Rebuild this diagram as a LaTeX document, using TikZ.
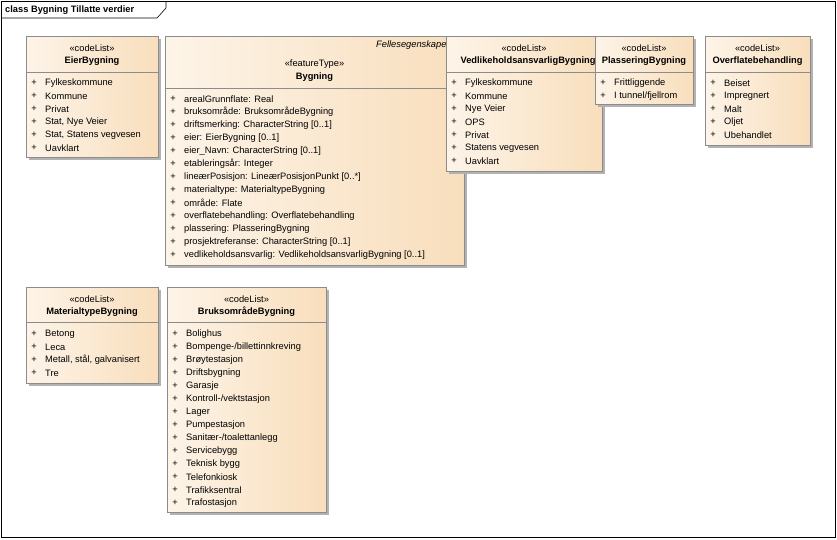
\documentclass[tikz,border=0pt]{standalone}
\usepackage{fontspec}
\setmainfont{Liberation Sans}
\begin{document}
\begin{tikzpicture}[x=1pt,y=-1pt,
  t/.style={inner sep=0pt,font=\fontsize{9.3}{11}\selectfont},
  it/.style={t,anchor=west},
  box/.style={draw=black!45,line width=0.6pt,left color=cream1,right color=cream2},
  shadow/.style={fill=black!30,draw=none}]
\definecolor{cream1}{HTML}{FDF4E8}
\definecolor{cream2}{HTML}{F8DEBC}
\useasboundingbox (0,0) rectangle (837,539);
\draw[line width=0.8pt] (1,1) rectangle (835,537);
\draw[line width=0.6pt] (1,18) -- (157,18) -- (166,8) -- (166,1);
\node[t,anchor=west,font=\fontsize{9.3}{11}\selectfont\bfseries] (title) at (5,10) {class Bygning Tillatte verdier};
% helper
\newcommand\ubox[8]{% name x1 y1 x2 y2 divider stereo title
  \fill[shadow] (#2+3,#3+3) rectangle (#4+3,#5+3);
  \path[box] (#2,#3) rectangle (#4,#5);
  \node[coordinate] (#1) at (#2,#3) {};
  \draw[black!45,line width=0.6pt] (#2,#6) -- (#4,#6);
  \node[t] (#1-st) at ({(#2+#4)/2},#7) {«#8»};
}
\newcommand\uitems[4]{% x ystart list
  \foreach \s [count=\i from 0] in {#3} {
    \node[t] at (#1+8,#2+13*\i) {+};
    \node[it] at (#1+19,#2+13*\i) {\s};
  }
}
% EierBygning
\ubox{eier}{26}{36}{158}{157}{72}{48}{codeList}
\node[t,font=\fontsize{9.3}{11}\selectfont\bfseries] at (92,61) {EierBygning};
\uitems{26}{83}{Fylkeskommune,Kommune,Privat,{Stat, Nye Veier},{Stat, Statens vegvesen},Uavklart}{}
% Bygning
\ubox{byg}{165}{36}{464}{265}{88}{64}{featureType}
\node[t,font=\fontsize{9.3}{11}\selectfont\bfseries] at (314.5,77) {Bygning};
\node[t,anchor=west,font=\fontsize{9.3}{11}\selectfont\itshape] at (376,45) {Fellesegenskaper};
\uitems{165}{99}{arealGrunnflate: Real,bruksområde: BruksområdeBygning,driftsmerking: CharacterString [0..1],eier: EierBygning [0..1],eier\_Navn: CharacterString [0..1],etableringsår: Integer,lineærPosisjon: LineærPosisjonPunkt [0..*],materialtype: MaterialtypeBygning,område: Flate,overflatebehandling: Overflatebehandling,plassering: PlasseringBygning,prosjektreferanse: CharacterString [0..1],vedlikeholdsansvarlig: VedlikeholdsansvarligBygning [0..1]}{}
% Vedlikehold
\ubox{ved}{446}{36}{602}{171}{72}{48}{codeList}
\node[t,font=\fontsize{9.3}{11}\selectfont\bfseries] at (528,61) {VedlikeholdsansvarligBygning};
\uitems{446}{83}{Fylkeskommune,Kommune,Nye Veier,OPS,Privat,Statens vegvesen,Uavklart}{}
% Plassering
\ubox{pla}{595}{36}{693}{104}{72}{48}{codeList}
\node[t,font=\fontsize{9.3}{11}\selectfont\bfseries] at (644,61) {PlasseringBygning};
\uitems{595}{83}{Frittliggende,I tunnel/fjellrom}{}
% Overflate
\ubox{ovf}{705}{36}{810}{145}{72}{48}{codeList}
\node[t,font=\fontsize{9.3}{11}\selectfont\bfseries] at (757.5,61) {Overflatebehandling};
\uitems{705}{83}{Beiset,Impregnert,Malt,Oljet,Ubehandlet}{}
% Materialtype
\ubox{mat}{26}{287}{158}{383}{322}{299}{codeList}
\node[t,font=\fontsize{9.3}{11}\selectfont\bfseries] at (92,312) {MaterialtypeBygning};
\uitems{26}{334}{Betong,Leca,{Metall, stål, galvanisert},Tre}{}
% Bruksomrade
\ubox{bru}{167}{287}{326}{512}{322}{299}{codeList}
\node[t,font=\fontsize{9.3}{11}\selectfont\bfseries] at (246.5,312) {BruksområdeBygning};
\uitems{167}{334}{Bolighus,Bompenge-/billettinnkreving,Brøytestasjon,Driftsbygning,Garasje,Kontroll-/vektstasjon,Lager,Pumpestasjon,Sanitær-/toalettanlegg,Servicebygg,Teknisk bygg,Telefonkiosk,Trafikksentral,Trafostasjon}{}
\end{tikzpicture}
\end{document}
